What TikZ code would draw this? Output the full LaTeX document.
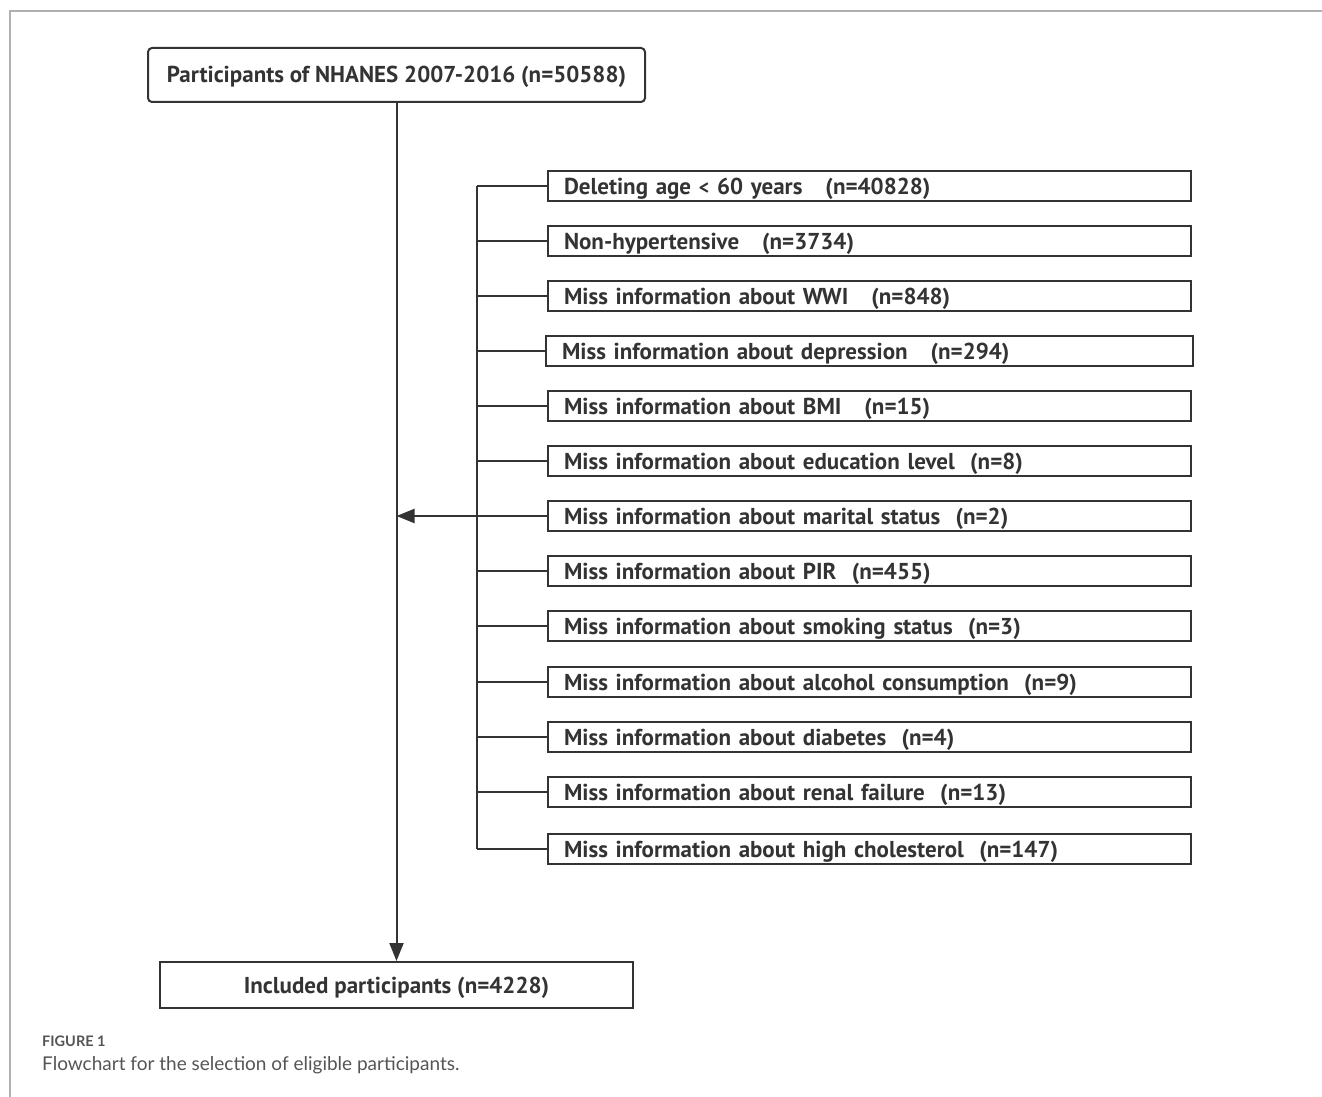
\documentclass[tikz,border=0pt]{standalone}
\usepackage{fontspec}
\setmainfont{PT Sans}
\newfontfamily\capfont{Lato}
\usetikzlibrary{arrows.meta}
\definecolor{ink}{HTML}{333333}
\definecolor{frame}{HTML}{B0B0B0}
\definecolor{captxt}{HTML}{555555}
\begin{document}
\begin{tikzpicture}[x=1pt,y=-1pt,
  every node/.style={font=\fontsize{23}{27}\selectfont\bfseries, text=ink},
  boxtext/.style={text height=18pt, text depth=2pt},
  exbox/.style={boxtext, draw=ink, line width=2pt, minimum height=30pt, inner xsep=16pt, inner ysep=0pt, text width=611pt, align=left},
  mainbox/.style={boxtext, draw=ink, line width=2pt, inner sep=0pt},
  link/.style={draw=ink, line width=2pt},
  tip/.style={-{Triangle[length=18pt,width=14pt]}}]
\useasboundingbox (0,0) rectangle (1322,1097);
% figure frame
\draw[frame, line width=1.2pt] (1322,11) -- (10,11) -- (10,1097);
% main boxes
\node[mainbox, rounded corners=4pt, minimum width=497pt, minimum height=54pt] (top) at (396.5,75) {Participants of NHANES 2007-2016 (n=50588)};
\node[mainbox, minimum width=473pt, minimum height=46pt] (bot) at (396.5,985) {Included participants (n=4228)};
% exclusion boxes
\node[exbox] (b1) at (869.5,186) {Deleting age {\fontsize{20}{24}\selectfont<} 60 years\ \ \ (n=40828)};
\node[exbox] (b2) at (869.5,241) {Non-hypertensive\ \ \ (n=3734)};
\node[exbox] (b3) at (869.5,296) {Miss information about WWI\ \ \ (n=848)};
\node[exbox, text width=615pt] (b4) at (869.5,351) {Miss information about depression\ \ \ (n=294)};
\node[exbox] (b5) at (869.5,406) {Miss information about BMI\ \ \ (n=15)};
\node[exbox] (b6) at (869.5,461) {Miss information about education level\ \ (n=8)};
\node[exbox] (b7) at (869.5,516) {Miss information about marital status\ \ (n=2)};
\node[exbox] (b8) at (869.5,571) {Miss information about PIR\ \ (n=455)};
\node[exbox] (b9) at (869.5,626) {Miss information about smoking status\ \ (n=3)};
\node[exbox] (b10) at (869.5,682) {Miss information about alcohol consumption\ \ (n=9)};
\node[exbox] (b11) at (869.5,737) {Miss information about diabetes\ \ (n=4)};
\node[exbox] (b12) at (869.5,792) {Miss information about renal failure\ \ (n=13)};
\node[exbox] (b13) at (869.5,849) {Miss information about high cholesterol\ \ (n=147)};
% branch
\coordinate (btop) at (477,186);
\draw[link] (btop) -- (btop |- b13.west);
\foreach \b in {b1,b2,b3,b4,b5,b6,b7,b8,b9,b10,b11,b12,b13}
  \draw[link] (\b.west) -- (\b.west -| btop);
% arrows
\draw[link, tip] (top.south) -- (bot.north);
\draw[link, tip] (b7.west) -- (b7.west -| top.south);
% caption
\node[anchor=base west, inner sep=0pt, font=\capfont\fontsize{14.5}{17}\selectfont\bfseries, text=captxt] (figlabel) at (42,1046) {FIGURE 1};
\node[anchor=base west, inner sep=0pt, font=\capfont\fontsize{19}{22}\selectfont, text=captxt] (figcap) at (42,1070) {Flowchart for the selection of eligible participants.};
\end{tikzpicture}
\end{document}
